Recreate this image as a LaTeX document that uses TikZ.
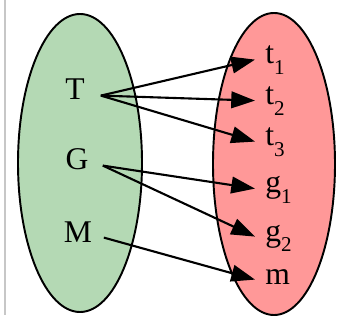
\documentclass[tikz,border=0pt]{standalone}
\usepackage{fontspec}
\setmainfont{Liberation Serif}
\usetikzlibrary{shapes.geometric,arrows.meta}
\definecolor{setgreen}{RGB}{180,217,180}
\definecolor{setred}{RGB}{255,152,152}
\newcommand{\idx}[1]{\raisebox{-0.32em}{\fontsize{12}{13}\selectfont #1}}

\begin{document}
\begin{tikzpicture}[x=0.02cm, y=-0.02cm,
  set/.style={ellipse, draw, line width=1.1pt, inner sep=0pt},
  elem/.style={font=\fontsize{18}{21}\selectfont, text height=0.55em, text depth=0.05em},
  dom/.style={elem, anchor=base, minimum width=29pt, inner sep=0pt},
  img/.style={elem, anchor=base west, inner xsep=5.7pt, inner ysep=0pt},
  arr/.style={-{Triangle[length=13.5pt, width=9.5pt]}, line width=1.2pt}
]
  \useasboundingbox (0,0) rectangle (348,324);
  \draw[black!22, line width=0.9pt] (5,0) -- (5,315);

  \node[set, fill=setgreen, minimum width=124*0.02cm, minimum height=298*0.02cm] (domain) at (80,163) {};
  \node[set, fill=setred, minimum width=122*0.02cm, minimum height=302*0.02cm] (codomain) at (274,164) {};

  \node[dom] (T) at (75,100) {T};
  \node[dom] (G) at (77,170) {G};
  \node[dom] (M) at (78,242) {M};

  \node[img] (t1) at (255,64) {t\idx{1}};
  \node[img] (t2) at (255,105) {t\idx{2}};
  \node[img] (t3) at (255,146) {t\idx{3}};
  \node[img] (g1) at (255,193) {g\idx{1}};
  \node[img] (g2) at (255,241) {g\idx{2}};
  \node[img] (m) at (255,284) {m};

  \draw[arr] (T.east) -- (t1.west);
  \draw[arr] (T.east) -- (t2.west);
  \draw[arr] (T.east) -- (t3.west);
  \draw[arr] (G.east) -- (g1.west);
  \draw[arr] (G.east) -- (g2.west);
  \draw[arr] (M.east) -- (m.west);
\end{tikzpicture}
\end{document}
